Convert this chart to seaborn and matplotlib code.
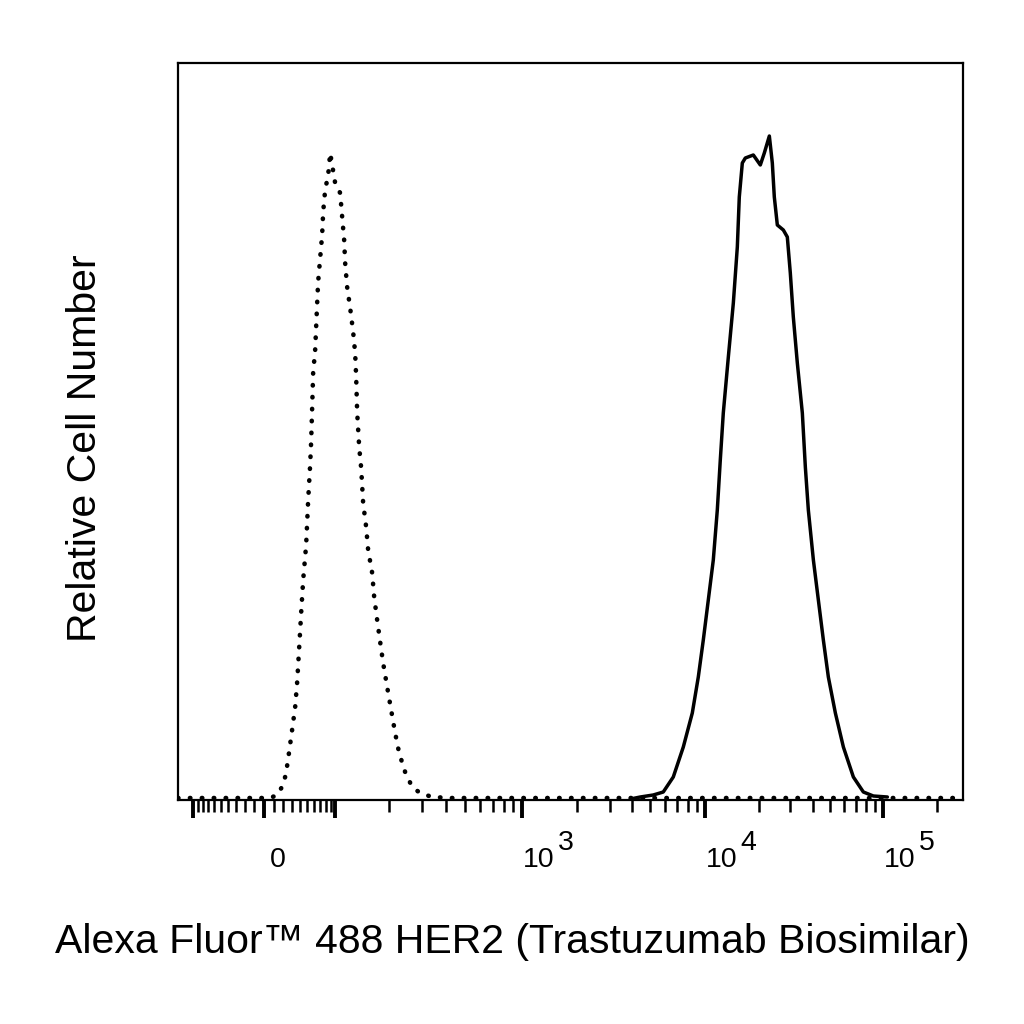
import numpy as np
import pandas as pd
import matplotlib
matplotlib.use('Agg')
import matplotlib.pyplot as plt
import seaborn as sns

# isotype control (dotted) histogram, fluorescence vs relative count
iso_x = [-122, 6.1, 13.4, 19.8, 23.1, 26.5, 30.0, 33.7, 36.1, 38.7, 41.3, 44.0,
         48.1, 51.0, 53.9, 55.4, 57.0, 58.5, 61.7, 63.3, 65.0, 66.6, 70.1, 73.6,
         75.5, 79.2, 85.1, 89.2, 100, 106.9, 109.8, 112.7, 114.2, 117.2, 121.9,
         126.7, 130.0, 131.7, 133.4, 136.9, 140.4, 144.0, 149.6, 153.4, 161.4,
         165.5, 171.8, 178.4, 185.1, 194.6, 204.4, 214.8, 225.6, 242.8, 264.6,
         291.6, 337.5, 419.6, 280000]
iso_y = [2, 2, 5, 15, 27, 48, 70, 93, 117, 152, 187, 220,
         255, 300, 335, 358, 393, 427, 450, 473, 497, 518, 542, 565,
         588, 610, 625, 647, 617, 607, 583, 560, 537, 513, 492,
         468, 447, 423, 388, 353, 332, 297, 273, 250, 227,
         203, 180, 158, 137, 113, 90, 67, 47, 28, 13,
         7, 3, 2, 2]

# HER2 stained (solid) histogram
her2_x = [3900, 4414, 5196, 5895, 6686, 7584, 8492, 9158, 9752, 10396, 11090,
          11680, 12140, 12620, 13470, 14370, 15130, 15520, 16140, 16780, 18610,
          20370, 21450, 22890, 23790, 24410, 25380, 27430, 28880, 30020, 31210,
          32870, 35070, 36460, 37900, 40450, 43140, 46020, 49090, 53750, 59620,
          67840, 77200, 87860, 105300]
her2_y = [1, 3, 5, 8, 23, 53, 87, 123, 160, 200, 240,
          290, 340, 387, 443, 497, 553, 603, 637, 642, 645,
          635, 647, 664, 637, 603, 575, 570, 563, 527, 483,
          437, 387, 333, 290, 240, 200, 160, 123, 87, 53,
          23, 8, 4, 3]

major_ticks = [-100, 0, 100, 1000, 10000, 100000]
decades = [10, 100, 1000, 10000]
minor_ticks = sorted([s * m * d for d in decades for m in range(2, 10) for s in (1, -1)
                      if -122 < s * m * d < 280000] + [10, -10, 100000 * 2])

# biexponential-like display scale (knots follow the axis decades)
knot_x = np.array([-1e5, -1e4, -1000, -100, 0, 100, 1000, 1e4, 1e5, 1e6])
knot_p = np.array([-355, -177, 6, 193, 264, 335, 522, 705, 883, 1061])
knot_u = np.arcsinh(knot_x / 50)


def forward(x):
    return np.interp(np.arcsinh(np.asarray(x) / 50), knot_u, knot_p)


def inverse(p):
    return 50 * np.sinh(np.interp(np.asarray(p), knot_p, knot_u))


sns.set_theme(style='white')
plt.rcParams['font.family'] = ['Liberation Sans', 'DejaVu Sans']
plt.rcParams['text.color'] = 'black'

fig = plt.figure(figsize=(10.24, 10.24), dpi=100)
ax = fig.add_axes([178 / 1024, 1 - 800 / 1024, (963 - 178) / 1024, (800 - 63) / 1024])

iso_df = pd.DataFrame({'fluor': iso_x, 'count': iso_y})
her2_df = pd.DataFrame({'fluor': her2_x, 'count': her2_y})

sns.lineplot(data=iso_df, x='fluor', y='count', color='black', lw=3.3,
             linestyle=(0, (0.1, 2.5)), dash_capstyle='round', estimator=None, ax=ax)
sns.lineplot(data=her2_df, x='fluor', y='count', color='black', lw=2.5,
             estimator=None, ax=ax)

ax.set_xscale('function', functions=(forward, inverse))
ax.set_xlim(-122, 280000)
ax.set_ylim(0, 737)

ax.set_xticks(major_ticks)
ax.set_xticks(minor_ticks, minor=True)
ax.set_xticklabels([])
ax.set_yticks([])
ax.tick_params(axis='x', which='major', direction='out', length=13, width=2.8,
               color='black', bottom=True)
ax.tick_params(axis='x', which='minor', direction='out', length=8.5, width=1.8,
               color='black', bottom=True)
for sp in ax.spines.values():
    sp.set_color('black')
    sp.set_linewidth(1.6)
ax.set_xlabel('')
ax.set_ylabel('')

# tick labels: "0" and powers of ten with large superscripts
lab_y = (800 - 867) / 737
ax.annotate('0', xy=(0, lab_y), xycoords=ax.get_xaxis_transform(),
            xytext=(10, 0), textcoords='offset points', color='black',
            ha='center', va='baseline', fontsize=20.5)
for exp in [3, 4, 5]:
    ax.annotate('10', xy=(10 ** exp, lab_y), xycoords=ax.get_xaxis_transform(),
                xytext=(0.5, 0), textcoords='offset points', color='black',
                ha='left', va='baseline', fontsize=20.5)
    ax.annotate(str(exp), xy=(10 ** exp, lab_y), xycoords=ax.get_xaxis_transform(),
                xytext=(25.5, 12), textcoords='offset points', color='black',
                ha='left', va='baseline', fontsize=20.5)

fig.text(0.5, 1 - 953 / 1024, 'Alexa Fluor\u2122 488 HER2 (Trastuzumab Biosimilar)',
         ha='center', va='baseline', fontsize=29.5, color='black')
fig.text(96 / 1024, 1 - 448 / 1024, 'Relative Cell Number', rotation=90,
         rotation_mode='anchor', ha='center', va='baseline', fontsize=29.5, color='black')

fig.savefig('out.png', dpi=100, facecolor='white')
